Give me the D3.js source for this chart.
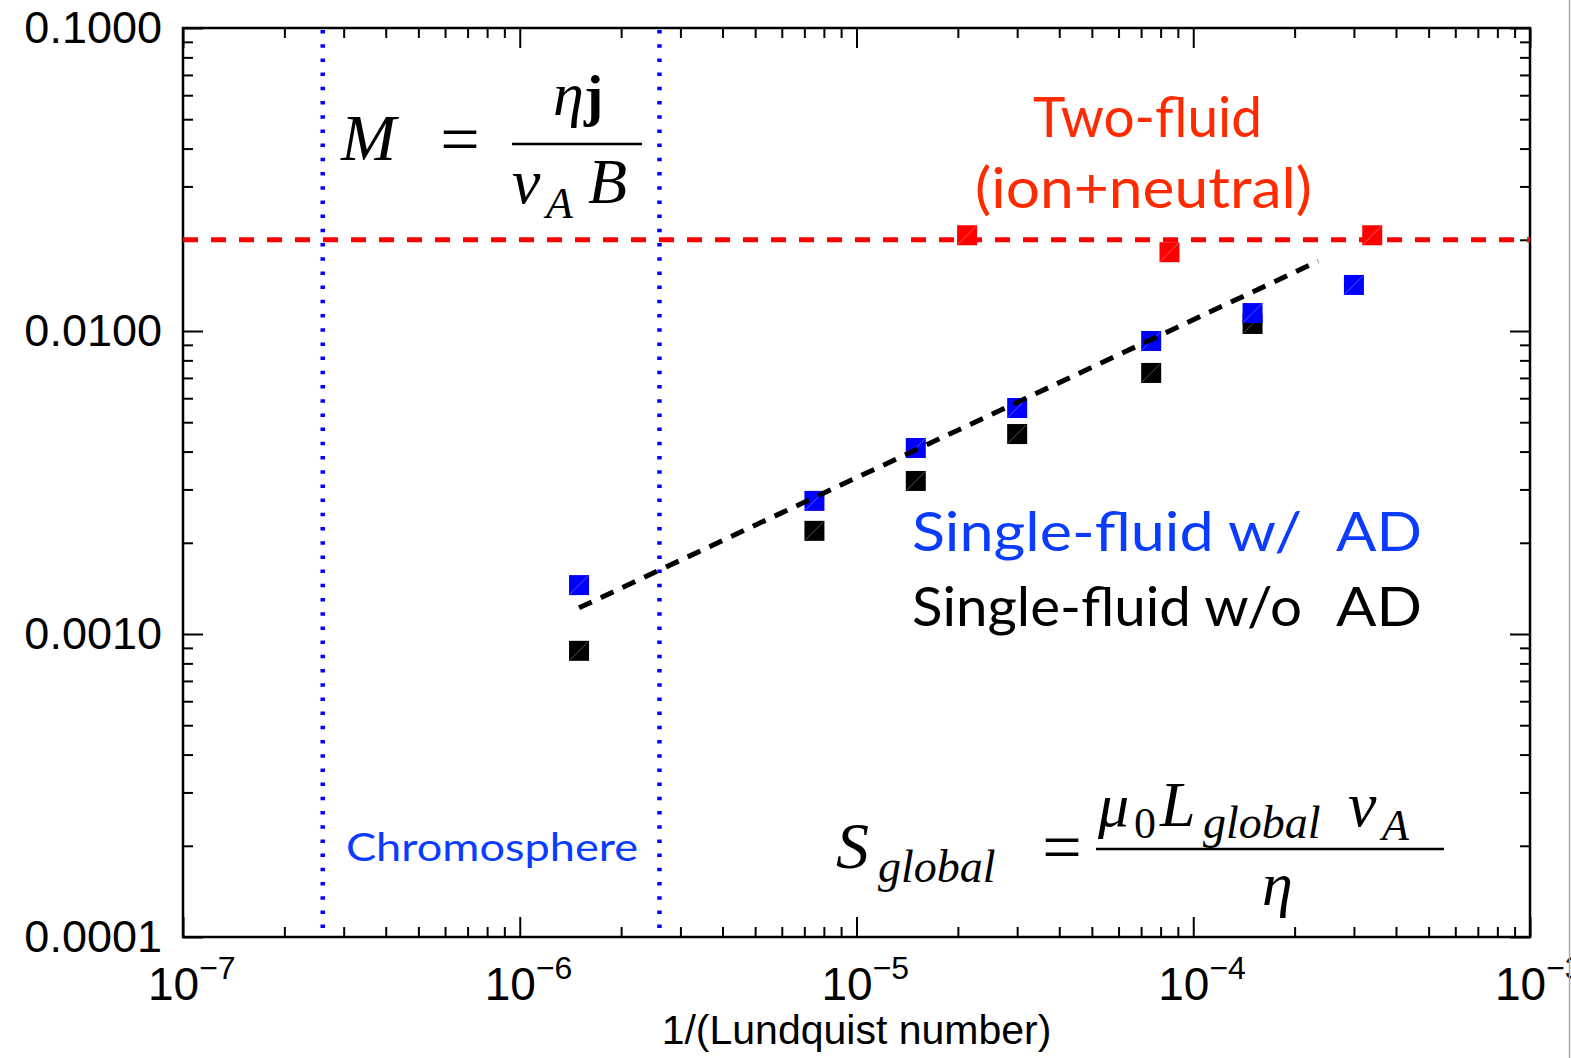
<!DOCTYPE html>
<html>
<head>
<meta charset="utf-8">
<script src="https://cdn.jsdelivr.net/npm/d3@7"></script>
<style>
  body { margin: 0; background: #fff; }
  svg { display: block; }
</style>
</head>
<body>
<svg id="chart" width="1571" height="1058"></svg>
<script>
// inverse Lundquist number of each run
const invS = [1.5e-6, 7.5e-6, 1.5e-5, 3.0e-5, 7.5e-5, 1.5e-4, 3.0e-4];
// reconnection rate, single fluid with ambipolar diffusion
const rateWithAD = [0.00145, 0.00275, 0.00411, 0.00557, 0.00927, 0.01146, 0.01419];
// reconnection rate, single fluid without ambipolar diffusion
const rateNoAD = [0.00088, 0.00219, 0.00320, 0.00457, 0.00727, 0.01055];
// two-fluid runs
const twoFluidX = [2.13e-5, 8.5e-5, 3.4e-4];
const twoFluidRate = [0.0207, 0.0182, 0.0207];
const twoFluidLevel = 0.02;
// power-law fit through the single-fluid runs
const fitX = [1.5e-6, 2.35e-4];
const fitRate = [0.00122, 0.0170];
// chromospheric range of 1/S
const chromoBounds = [2.6e-7, 2.6e-6];

const xTicks = [1e-7, 1e-6, 1e-5, 1e-4, 1e-3];
const xTickExp = ['\u22127', '\u22126', '\u22125', '\u22124', '\u22123'];
const yTicks = [1e-4, 1e-3, 1e-2, 1e-1];
const yTickLabels = ['0.0001', '0.0010', '0.0100', '0.1000'];

const plotL = 183, plotR = 1530, plotT = 28, plotB = 937;
const svg = d3.select('#chart');

const x = d3.scaleLog().domain([1e-7, 1e-3]).range([plotL, plotR]);
const y = d3.scaleLog().domain([1e-4, 1e-1]).range([plotB, plotT]);

const minors = (lo, hi) => {
  const out = [];
  for (let e = lo; e < hi; e++) for (let m = 2; m <= 9; m++) out.push(m * Math.pow(10, e));
  return out;
};
const xMinor = minors(-7, -3);
const yMinor = minors(-4, -1);

const axisStyle = g => {
  g.select('.domain').remove();
  g.selectAll('line').attr('stroke', '#000').attr('stroke-width', 2);
  g.selectAll('text').remove();
};

// ticks point inward on all four sides
const gAxes = svg.append('g');
gAxes.append('g').attr('transform', `translate(0,${plotB})`)
  .call(d3.axisBottom(x).tickValues(xTicks).tickSize(-20)).call(axisStyle);
gAxes.append('g').attr('transform', `translate(0,${plotB})`)
  .call(d3.axisBottom(x).tickValues(xMinor).tickSize(-10)).call(axisStyle);
gAxes.append('g').attr('transform', `translate(0,${plotT})`)
  .call(d3.axisTop(x).tickValues(xTicks).tickSize(-20)).call(axisStyle);
gAxes.append('g').attr('transform', `translate(0,${plotT})`)
  .call(d3.axisTop(x).tickValues(xMinor).tickSize(-10)).call(axisStyle);
gAxes.append('g').attr('transform', `translate(${plotL},0)`)
  .call(d3.axisLeft(y).tickValues(yTicks).tickSize(-20)).call(axisStyle);
gAxes.append('g').attr('transform', `translate(${plotL},0)`)
  .call(d3.axisLeft(y).tickValues(yMinor).tickSize(-10)).call(axisStyle);
gAxes.append('g').attr('transform', `translate(${plotR},0)`)
  .call(d3.axisRight(y).tickValues(yTicks).tickSize(-20)).call(axisStyle);
gAxes.append('g').attr('transform', `translate(${plotR},0)`)
  .call(d3.axisRight(y).tickValues(yMinor).tickSize(-10)).call(axisStyle);

gAxes.append('rect')
  .attr('x', plotL).attr('y', plotT)
  .attr('width', plotR - plotL).attr('height', plotB - plotT)
  .attr('fill', 'none').attr('stroke', '#000').attr('stroke-width', 2.5);

// tick labels
const sans = 'Liberation Sans, Arial, Helvetica, sans-serif';
svg.append('g').selectAll('text').data(yTicks).join('text')
  .attr('x', 162).attr('y', d => y(d) + 15)
  .attr('text-anchor', 'end')
  .attr('font-family', sans).attr('font-size', 45)
  .text((d, i) => yTickLabels[i]);

const xl = svg.append('g').selectAll('text').data(xTicks).join('text')
  .attr('x', d => x(d) - 35).attr('y', 1000)
  .attr('font-family', sans).attr('font-size', 46);
xl.append('tspan').text('10');
xl.append('tspan').attr('dy', -21).attr('font-size', 32).text((d, i) => xTickExp[i]);

svg.append('text')
  .attr('x', (plotL + plotR) / 2).attr('y', 1044)
  .attr('text-anchor', 'middle')
  .attr('font-family', sans).attr('font-size', 41)
  .text('1/(Lundquist number)');

// reference lines
svg.append('line')
  .attr('x1', plotL).attr('x2', plotR)
  .attr('y1', y(twoFluidLevel)).attr('y2', y(twoFluidLevel))
  .attr('stroke', '#ff0000').attr('stroke-width', 5)
  .attr('stroke-dasharray', '15,13');

const fitLine = d3.line().x(d => x(d[0])).y(d => y(d[1]));
const markerSize = 20;
const squares = (data, fill, hint) => {
  const g = svg.append('g');
  g.selectAll('rect').data(data).join('rect')
    .attr('x', d => x(d[0]) - markerSize / 2)
    .attr('y', d => y(d[1]) - markerSize / 2)
    .attr('width', markerSize).attr('height', markerSize)
    .attr('fill', fill);
  g.selectAll('line').data(data).join('line')
    .attr('x1', d => x(d[0]) - markerSize / 2 + 1)
    .attr('y1', d => y(d[1]) + markerSize / 2 - 1)
    .attr('x2', d => x(d[0]) + markerSize / 2 - 1)
    .attr('y2', d => y(d[1]) - markerSize / 2 + 1)
    .attr('stroke', hint).attr('stroke-width', 0.7);
};

squares(d3.zip(invS.slice(0, rateNoAD.length), rateNoAD), '#000', '#777');
squares(d3.zip(invS, rateWithAD), '#0000ff', '#7777ff');
squares(d3.zip(twoFluidX, twoFluidRate), '#ff0000', '#ff8888');

svg.append('path')
  .datum(d3.zip(fitX, fitRate))
  .attr('d', fitLine)
  .attr('fill', 'none').attr('stroke', '#000').attr('stroke-width', 5)
  .attr('stroke-dasharray', '14,10');

svg.append('g').selectAll('line').data(chromoBounds).join('line')
  .attr('x1', d => x(d)).attr('x2', d => x(d))
  .attr('y1', plotT + 2).attr('y2', plotB)
  .attr('stroke', '#0000ff').attr('stroke-width', 4.5)
  .attr('stroke-dasharray', '3.5,10.7');

// annotations
const gill = 'Lato, "Open Sans", sans-serif';
const label = (txt, xPos, yPos, size, color, len) =>
  svg.append('text')
    .attr('x', xPos).attr('y', yPos)
    .attr('font-family', gill).attr('font-size', size)
    .attr('fill', color)
    .attr('textLength', len).attr('lengthAdjust', 'spacingAndGlyphs')
    .text(txt);

label('Two-fluid', 1033, 137, 56, '#ff2a00', 229);
label('(ion+neutral)', 975, 208, 56, '#ff2a00', 337);
label('Single-fluid w/', 912, 551, 54, '#0a3cff', 390);
label('AD', 1336, 551, 54, '#0a3cff', 86);
label('Single-fluid w/o', 912, 626, 54, '#000', 390);
label('AD', 1336, 626, 54, '#000', 86);
label('Chromosphere', 346, 861, 38, '#0a3cff', 292);

// formulas
const serif = '"Liberation Serif", "DejaVu Serif", serif';
const math = (txt, xPos, yPos, size, opts = {}) =>
  svg.append('text')
    .attr('x', xPos).attr('y', yPos)
    .attr('font-family', serif).attr('font-size', size)
    .attr('font-style', opts.upright ? 'normal' : 'italic')
    .attr('font-weight', opts.bold ? 'bold' : 'normal')
    .attr('text-anchor', opts.anchor || 'start')
    .text(txt);
const bar = (x1, x2, yPos) =>
  svg.append('line')
    .attr('x1', x1).attr('x2', x2).attr('y1', yPos).attr('y2', yPos)
    .attr('stroke', '#000').attr('stroke-width', 2.5);

math('M', 341, 160, 66);
math('=', 460, 163, 70, { upright: true, anchor: 'middle' });
bar(512, 642, 144);
math('\u03b7', 553, 115, 62);
math('j', 584, 115, 58, { upright: true, bold: true });
math('v', 512, 203, 64);
math('A', 546, 218, 44);
math('B', 588, 203, 64);

math('S', 836, 868, 66);
math('global', 878, 882, 46);
math('=', 1062, 871, 70, { upright: true, anchor: 'middle' });
bar(1096, 1444, 849);
math('\u03bc', 1098, 826, 62);
math('0', 1134, 838, 44, { upright: true });
math('L', 1160, 826, 64);
math('global', 1203, 838, 46);
math('v', 1348, 826, 64);
math('A', 1382, 840, 44);
math('\u03b7', 1262, 905, 62);

// frame edge on the far right
svg.append('line')
  .attr('x1', 1569.5).attr('x2', 1569.5).attr('y1', 0).attr('y2', 1058)
  .attr('stroke', '#aaa').attr('stroke-width', 1.5);
</script>
</body>
</html>
